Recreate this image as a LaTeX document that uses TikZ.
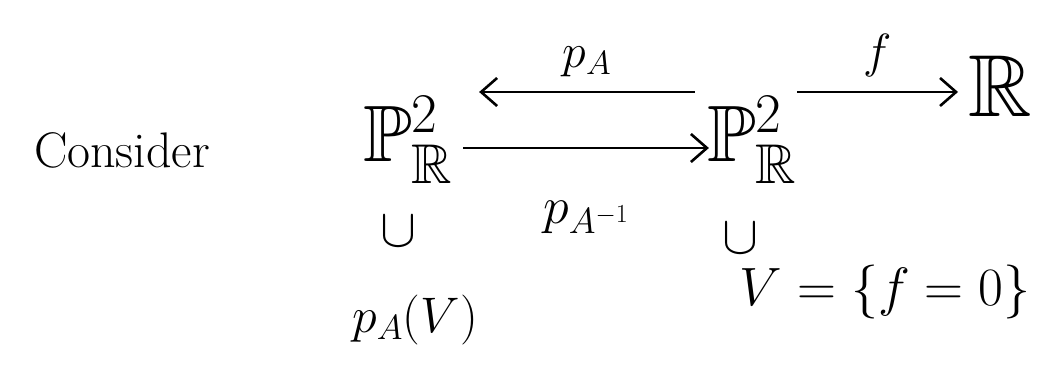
\RequirePackage{fix-cm}
\documentclass[tikz,border=0pt]{standalone}
\usepackage{amssymb}
\usetikzlibrary{arrows.meta}
\begin{document}
\begin{tikzpicture}[x=1pt,y=-1pt,
  big/.style={inner sep=0pt,font=\fontsize{80}{88}\selectfont},
  txt/.style={inner sep=0pt,font=\fontsize{54}{60}\selectfont},
  lbl/.style={inner sep=0pt,font=\fontsize{48}{54}\selectfont},
  arr/.style={line width=2.6pt,-{Straight Barb[length=16pt,width=28pt,line width=2.6pt]}}]
\useasboundingbox (0,0) rectangle (1059,387);
\node[lbl,font=\fontsize{50}{56}\selectfont] (cons) at (122,150) {Consider};
\node[big] (L) at (408,140) {$\mathbb{P}^2_{\mathbb{R}}$};
\node[big] (M) at (752,140) {$\mathbb{P}^2_{\mathbb{R}}$};
\node[big,font=\fontsize{88}{96}\selectfont] (R) at (1000,86) {$\mathbb{R}$};
\node[txt] (c1) at (398,232) {$\cup$};
\node[txt] (c2) at (740,238) {$\cup$};
\node[txt,font=\fontsize{50}{56}\selectfont] (pv) at (415,320) {$p_A(V)$};
\node[txt] (V) at (885,292) {$V=\{f=0\}$};
\draw[arr] ([xshift=-12pt,yshift=48pt]M.west) -- ([xshift=26pt,yshift=48pt]L.east) node[midway,above=14pt,lbl] (pa) {$p_A$};
\draw[arr] ([xshift=10pt,yshift=-8pt]L.east) -- ([xshift=2pt,yshift=-8pt]M.west) node[midway,below=52pt,lbl,font=\fontsize{52}{58}\selectfont] (pai) {$p_{A^{-1}}$};
\draw[arr] ([xshift=0pt,yshift=48pt]M.east) -- ([xshift=-10pt]R.west |- 0,92) node[midway,above=14pt,lbl] (fl) {$f$};
\end{tikzpicture}
\end{document}
